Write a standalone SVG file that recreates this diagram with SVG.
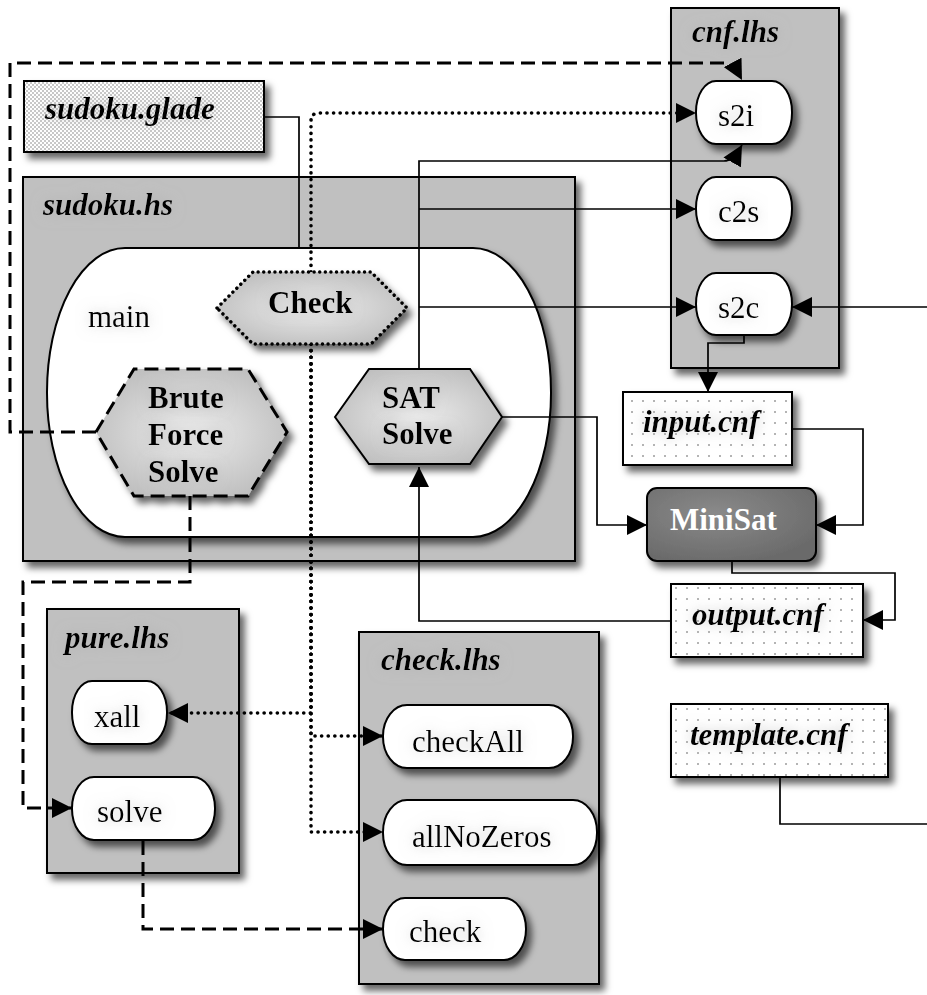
<svg xmlns="http://www.w3.org/2000/svg" width="927" height="995" viewBox="0 0 927 995">
<defs>
<style>
.cl{fill:#c0c0c0;stroke:#000;stroke-width:2;filter:url(#sh)}
.pill{fill:#fff;stroke:#000;stroke-width:2;filter:url(#sh)}
.hex{fill:url(#hexg);stroke:#000;stroke-width:2;filter:url(#sh)}
.file{fill:url(#dots);stroke:#000;stroke-width:2;filter:url(#sh)}
.e{fill:none;stroke:#000;stroke-width:1.7}
.dash{fill:none;stroke:#000;stroke-width:3;stroke-dasharray:14 7}
.dot{fill:none;stroke:#000;stroke-width:3.6;stroke-dasharray:0.1 6.5;stroke-linecap:round}
.t{font-family:"Liberation Serif","Times New Roman",serif;font-size:31px;fill:#000;filter:url(#tg)}
.ti{font-weight:bold;font-style:italic}
.b{font-weight:bold}
</style>
<filter id="sh" x="-15%" y="-15%" width="140%" height="140%">
<feDropShadow dx="5" dy="6" stdDeviation="3.5" flood-color="#000" flood-opacity="0.6"/>
</filter>
<filter id="tg" x="-20%" y="-60%" width="140%" height="220%">
<feGaussianBlur in="SourceAlpha" stdDeviation="7" result="b"/>
<feColorMatrix in="b" type="matrix" values="0 0 0 0 0.4  0 0 0 0 0.4  0 0 0 0 0.4  0 0 0 0.6 0" result="g"/>
<feMerge><feMergeNode in="g"/><feMergeNode in="SourceGraphic"/></feMerge>
</filter>
<radialGradient id="hexg" cx="50%" cy="50%" r="60%">
<stop offset="0" stop-color="#ececec"/>
<stop offset="1" stop-color="#bcbcbc"/>
</radialGradient>
<radialGradient id="minig" cx="40%" cy="35%" r="70%">
<stop offset="0" stop-color="#8a8a8a"/>
<stop offset="1" stop-color="#6a6a6a"/>
</radialGradient>
<pattern id="checker" width="4" height="4" patternUnits="userSpaceOnUse">
<rect width="4" height="4" fill="#fff"/>
<rect width="2" height="2" fill="#c8c8c8"/>
<rect x="2" y="2" width="2" height="2" fill="#c8c8c8"/>
</pattern>
<pattern id="dots" width="11" height="11" patternUnits="userSpaceOnUse">
<rect width="11" height="11" fill="#fff"/>
<rect x="4" y="4" width="2" height="2" fill="#b4b4b4"/>
</pattern>
<marker id="ah" markerUnits="userSpaceOnUse" markerWidth="20" markerHeight="20" refX="20" refY="10" orient="auto" viewBox="0 0 20 20">
<path d="M0,0 L20,10 L0,20 z" fill="#000" stroke="none"/>
</marker>
</defs>
<rect width="927" height="995" fill="#fff"/>

<g id="cluster_sudoku_hs">
<rect class="cl" x="23" y="177" width="552" height="384"/>
<text class="t ti" x="43" y="215">sudoku.hs</text>
</g>
<g id="cluster_cnf_lhs">
<rect class="cl" x="671" y="8" width="168" height="360"/>
<text class="t ti" x="692" y="42">cnf.lhs</text>
</g>
<g id="cluster_pure_lhs">
<rect class="cl" x="47" y="609" width="192" height="264"/>
<text class="t ti" x="65" y="648">pure.lhs</text>
</g>
<g id="cluster_check_lhs">
<rect class="cl" x="359" y="632" width="240" height="352"/>
<text class="t ti" x="381" y="670">check.lhs</text>
</g>

<g id="main">
<rect x="47" y="248" width="504" height="289" rx="78" ry="144" fill="#fff" stroke="#000" stroke-width="2" filter="url(#sh)"/>
<text class="t" x="88" y="327">main</text>
</g>

<g id="connectors">
<path class="e" d="M264,117 H299 V248"/>
<path class="dash" d="M96,432 H10 V63 H724 Q733,63 742,80" marker-end="url(#ah)"/>
<path class="dot" d="M311,272 V121 Q311,113 319,113 H696" marker-end="url(#ah)"/>
<path class="e" d="M419,369 V161 H724 Q733,161 742,145" marker-end="url(#ah)"/>
<path class="e" d="M419,209 H696" marker-end="url(#ah)"/>
<path class="e" d="M419,307 H696" marker-end="url(#ah)"/>
<path class="e" d="M780,777 V824 H945 V307 H792" marker-end="url(#ah)"/>
<path class="e" d="M744,335 V343 H708 V392" marker-end="url(#ah)"/>
<path class="e" d="M502,417 H597 V525 H647" marker-end="url(#ah)"/>
<path class="e" d="M792,429 H863 V525 H816" marker-end="url(#ah)"/>
<path class="e" d="M732,561 V573 H895 V620 H863" marker-end="url(#ah)"/>
<path class="e" d="M671,621 H419 V467" marker-end="url(#ah)"/>
<path class="dash" d="M190,496 V582 H23 V808 H72" marker-end="url(#ah)"/>
<path class="dash" d="M143,841 V929 H383" marker-end="url(#ah)"/>
<path class="dot" d="M311,344 V713 H168" marker-end="url(#ah)"/>
<path class="dot" d="M311,344 V736 H383" marker-end="url(#ah)"/>
<path class="dot" d="M311,344 V832 H383" marker-end="url(#ah)"/>
</g>

<g id="sudoku_glade">
<rect x="24" y="81" width="240" height="71" fill="url(#checker)" stroke="#000" stroke-width="2" filter="url(#sh)"/>
<text class="t ti" x="45" y="119">sudoku.glade</text>
</g>
<g id="Check">
<polygon class="hex" points="217,308 253,272 371,272 407,308 371,344 253,344" style="stroke-dasharray:0.1 5.5;stroke-linecap:round;stroke-width:3.4"/>
<text class="t b" x="268" y="313">Check</text>
</g>
<g id="BruteForceSolve">
<polygon class="hex" points="96,432 134,369 248,369 287,432 248,496 134,496" style="stroke-dasharray:14 7;stroke-width:3"/>
<text class="t b" x="148" y="408">Brute</text>
<text class="t b" x="148" y="445">Force</text>
<text class="t b" x="148" y="482">Solve</text>
</g>
<g id="SATSolve">
<polygon class="hex" points="335,417 369,369 470,369 502,417 470,464 369,464"/>
<text class="t b" x="382" y="408">SAT</text>
<text class="t b" x="382" y="444">Solve</text>
</g>
<g id="s2i">
<rect class="pill" x="696" y="81" width="96" height="63" rx="20" ry="31"/>
<text class="t" x="718" y="126">s2i</text>
</g>
<g id="c2s">
<rect class="pill" x="696" y="177" width="96" height="63" rx="20" ry="31"/>
<text class="t" x="718" y="222">c2s</text>
</g>
<g id="s2c">
<rect class="pill" x="696" y="273" width="96" height="62" rx="20" ry="31"/>
<text class="t" x="718" y="318">s2c</text>
</g>
<g id="input_cnf">
<rect class="file" x="623" y="392" width="169" height="73"/>
<text class="t ti" x="643" y="432">input.cnf</text>
</g>
<g id="MiniSat">
<rect x="647" y="488" width="169" height="73" rx="10" fill="url(#minig)" stroke="#000" stroke-width="2" filter="url(#sh)"/>
<text x="670" y="530" font-family="Liberation Serif, serif" font-size="31" font-weight="bold" fill="#fff">MiniSat</text>
</g>
<g id="output_cnf">
<rect class="file" x="671" y="584" width="192" height="73"/>
<text class="t ti" x="692" y="625">output.cnf</text>
</g>
<g id="template_cnf">
<rect class="file" x="671" y="704" width="217" height="73"/>
<text class="t ti" x="690" y="745">template.cnf</text>
</g>
<g id="xall">
<rect class="pill" x="72" y="681" width="95" height="63" rx="20" ry="31"/>
<text class="t" x="94" y="727">xall</text>
</g>
<g id="solve">
<rect class="pill" x="72" y="777" width="143" height="63" rx="22" ry="31"/>
<text class="t" x="97" y="822">solve</text>
</g>
<g id="checkAll">
<rect class="pill" x="383" y="705" width="190" height="63" rx="24" ry="31"/>
<text class="t" x="412" y="752">checkAll</text>
</g>
<g id="allNoZeros">
<rect class="pill" x="383" y="800" width="214" height="65" rx="24" ry="32"/>
<text class="t" x="412" y="847">allNoZeros</text>
</g>
<g id="check">
<rect class="pill" x="383" y="898" width="143" height="62" rx="22" ry="31"/>
<text class="t" x="409" y="942">check</text>
</g>
</svg>
